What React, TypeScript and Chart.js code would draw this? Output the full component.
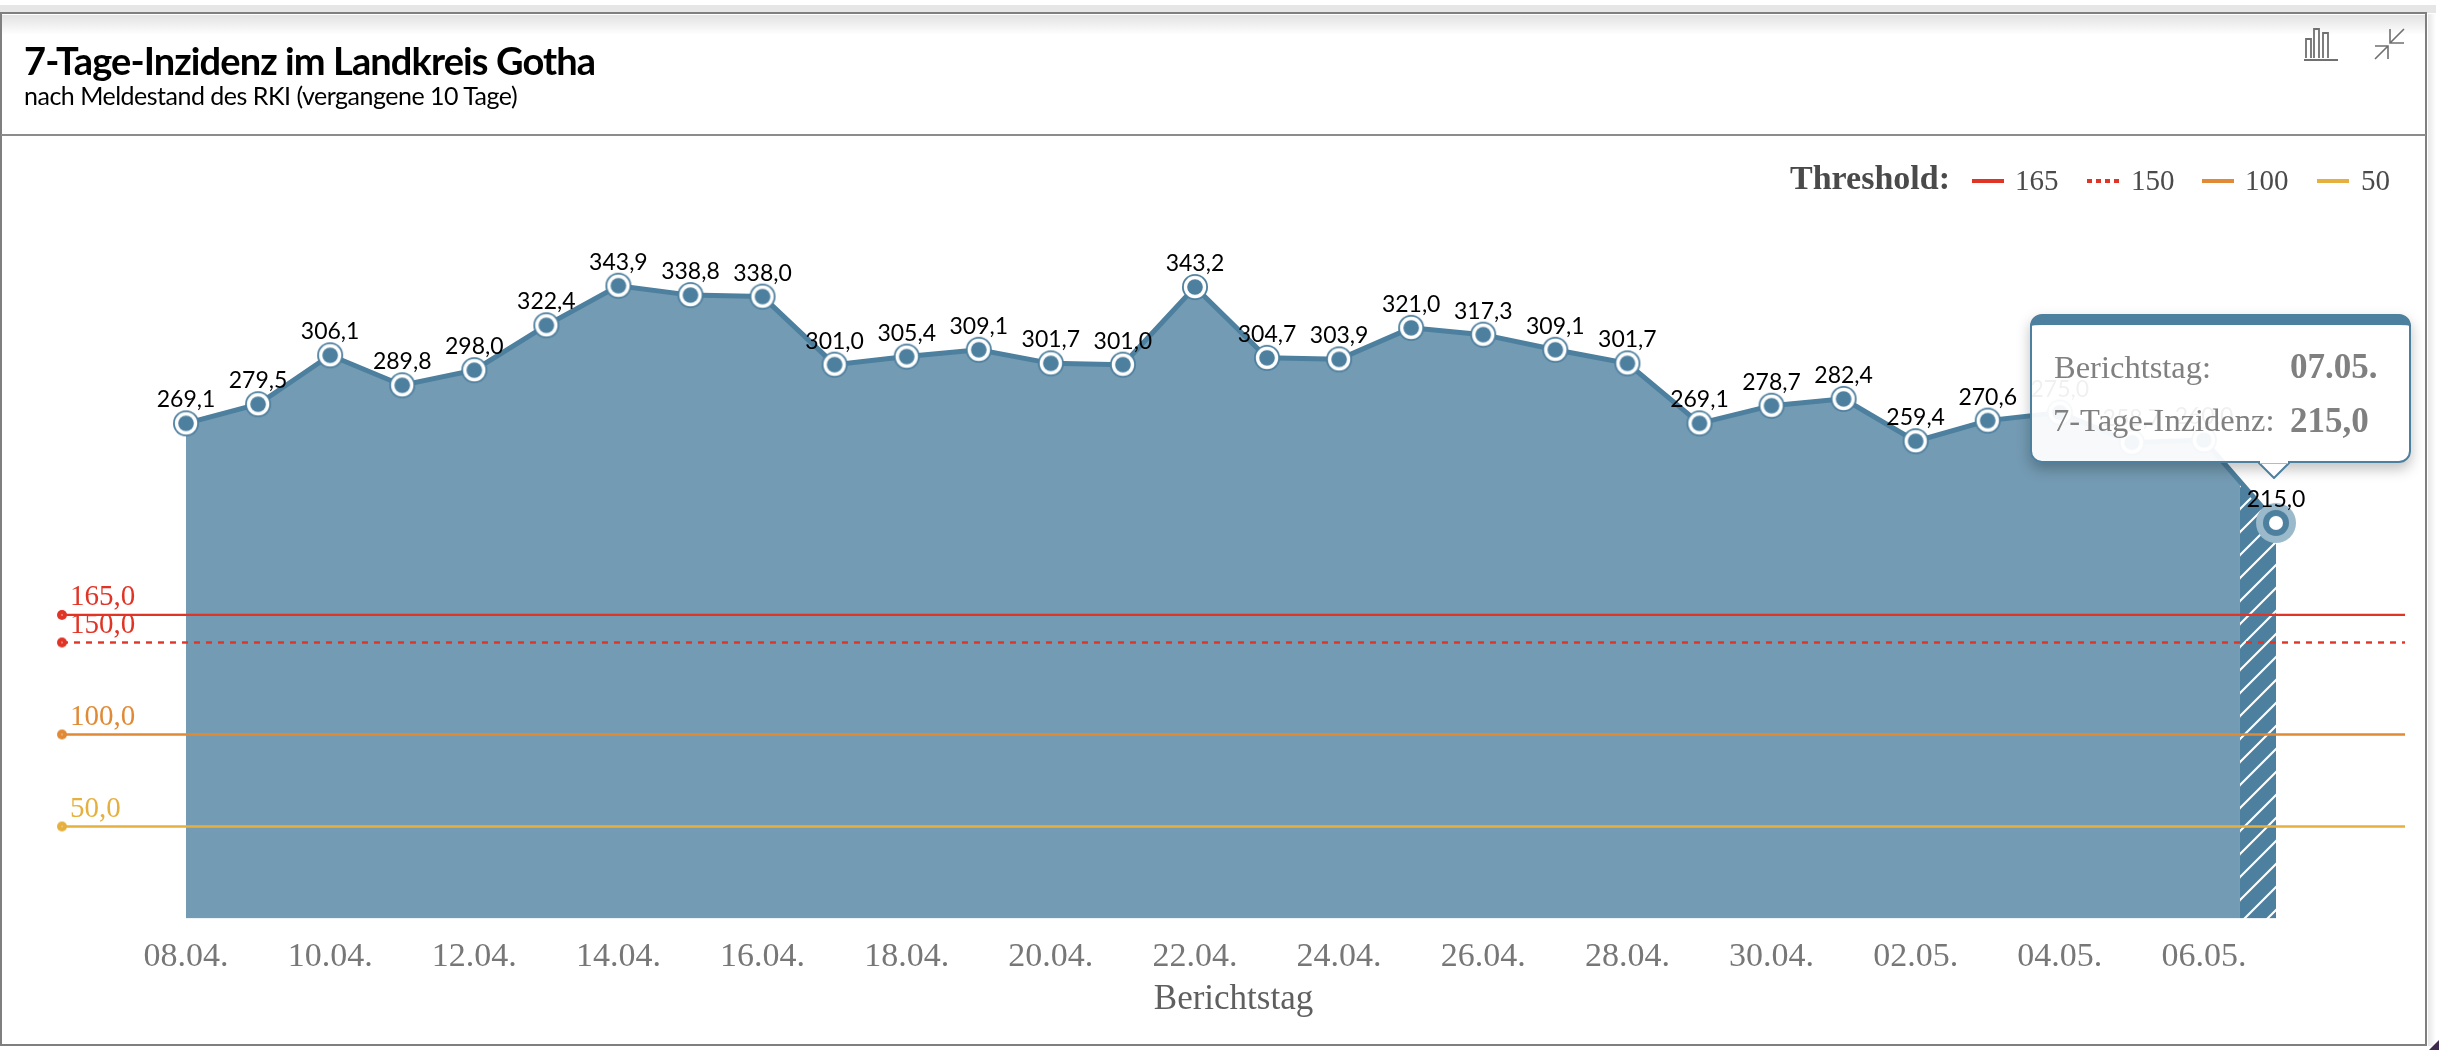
import React, { useEffect, useRef } from "react";
import { Chart, registerables } from "chart.js";

Chart.register(...registerables);

const categories = ["08.04.","09.04.","10.04.","11.04.","12.04.","13.04.","14.04.","15.04.","16.04.","17.04.","18.04.","19.04.","20.04.","21.04.","22.04.","23.04.","24.04.","25.04.","26.04.","27.04.","28.04.","29.04.","30.04.","01.05.","02.05.","03.05.","04.05.","05.05.","06.05.","07.05."];
const incidence = [269.1,279.5,306.1,289.8,298.0,322.4,343.9,338.8,338.0,301.0,305.4,309.1,301.7,301.0,343.2,304.7,303.9,321.0,317.3,309.1,301.7,269.1,278.7,282.4,259.4,270.6,275.0,258.7,260.0,215.0];
const thresholdValues = [165,150,100,50];
const thresholdColors = ["#e03426","#e03426","#e08a35","#e5b03e"];
const thresholdDashes = [[],[6,6],[],[]];

const BLUE = "#4d7f9e";
const AREA = "#739bb3";
const SERIF = '"Liberation Serif", serif';
const LATO = 'Lato, sans-serif';
const X_MIN = -1.7206;
const X_MAX = 30.79;

const fmt = (v: number) => v.toFixed(1).replace(".", ",");

function sprite(size: number, draw: (c: CanvasRenderingContext2D, m: number) => void) {
  const cv = document.createElement("canvas");
  cv.width = size; cv.height = size;
  draw(cv.getContext("2d")!, size / 2);
  return cv;
}
const disc = (c: CanvasRenderingContext2D, m: number, r: number, color: string) => {
  c.beginPath(); c.arc(m, m, r, 0, Math.PI * 2); c.fillStyle = color; c.fill();
};
const ringPoint = () => sprite(28, (c, m) => { disc(c, m, 13, BLUE); disc(c, m, 11.2, "#ffffff"); disc(c, m, 7.8, BLUE); });
const lastPoint = () => sprite(44, (c, m) => { disc(c, m, 20, "#9ab9cb"); disc(c, m, 13, BLUE); disc(c, m, 7, "#ffffff"); });
const thresholdPoint = (color: string) => sprite(12, (c, m) => { disc(c, m, 5, color); disc(c, m, 0.8, "#f5d0c0"); });

function areaFill(chart: any) {
  const sc = chart.scales.x;
  const w = chart.width, h = chart.height;
  const split = sc.getPixelForValue(categories.length - 1.5);
  const cv = document.createElement("canvas");
  cv.width = w; cv.height = h;
  const c = cv.getContext("2d")!;
  c.fillStyle = AREA; c.fillRect(0, 0, split, h);
  c.fillStyle = BLUE; c.fillRect(split, 0, w - split, h);
  c.save();
  c.beginPath(); c.rect(split, 0, w - split, h); c.clip();
  c.strokeStyle = "#ffffff"; c.lineWidth = 2;
  for (let k = 0; k < h + w; k += 23) {
    c.beginPath();
    c.moveTo(split - 20, k);
    c.lineTo(split + 120, k - 140);
    c.stroke();
  }
  c.restore();
  return c.createPattern(cv, "no-repeat");
}

const labelPlugin = {
  id: "valueLabels",
  afterDatasetsDraw(chart: any) {
    const c = chart.ctx;
    const meta = chart.getDatasetMeta(0);
    c.save();
    c.textAlign = "center"; c.textBaseline = "alphabetic";
    c.font = `23px ${LATO}`; c.fillStyle = "#000000";
    meta.data.forEach((p: any, i: number) => c.fillText(fmt(incidence[i]), p.x, p.y - 16));
    c.textAlign = "left";
    c.font = `29px ${SERIF}`;
    thresholdValues.forEach((v, i) => {
      c.fillStyle = thresholdColors[i];
      c.fillText(fmt(v), chart.scales.x.getPixelForValue(X_MIN) + 8, chart.scales.y.getPixelForValue(v) - 10);
    });
    c.restore();
  },
};

export default function App() {
  const ref = useRef<HTMLCanvasElement>(null);
  useEffect(() => {
    const ring = ringPoint();
    const last = lastPoint();
    const chart = new Chart(ref.current!, {
      type: "line",
      data: {
        datasets: [
          {
            label: "7-Tage-Inzidenz",
            data: incidence.map((y, x) => ({ x, y })),
            borderColor: BLUE,
            borderWidth: 5,
            tension: 0,
            fill: "origin",
            backgroundColor: (ctx: any) => areaFill(ctx.chart),
            pointRadius: 13,
            pointStyle: incidence.map((_, i) => (i === incidence.length - 1 ? last : ring)),
            order: 1,
            clip: false,
          } as any,
          ...thresholdValues.map((v, i) => ({
            label: String(v),
            data: [{ x: X_MIN, y: v }, { x: X_MAX, y: v }],
            borderColor: thresholdColors[i],
            borderWidth: 2.4,
            borderDash: thresholdDashes[i],
            fill: false,
            pointRadius: [5, 0],
            pointStyle: thresholdPoint(thresholdColors[i]),
            order: 0,
            clip: false,
          })) as any,
        ],
      },
      options: {
        responsive: false,
        devicePixelRatio: 1,
        animation: false,
        layout: { padding: { left: 62, right: 34, top: 182.5, bottom: 0 } },
        plugins: { legend: { display: false }, tooltip: { enabled: false } },
        scales: {
          x: {
            type: "linear",
            min: X_MIN,
            max: X_MAX,
            grid: { display: false },
            border: { display: false },
            afterFit(scale: any) { scale.height = 131.5; },
            afterBuildTicks(scale: any) {
              scale.ticks = categories
                .map((_, i) => ({ value: i }))
                .filter((t) => t.value % 2 === 0);
            },
            ticks: {
              autoSkip: false,
              maxRotation: 0,
              padding: 10,
              color: "#777777",
              font: { family: "Liberation Serif", size: 34 },
              callback: (v: any) => categories[v],
            },
            title: {
              display: true,
              text: "Berichtstag",
              color: "#5f5f5f",
              font: { family: "Liberation Serif", size: 35 },
              padding: { top: 0, bottom: 29 },
            },
          },
          y: { display: false, min: 0, max: 400 },
        },
      } as any,
      plugins: [labelPlugin],
    });
    return () => chart.destroy();
  }, []);

  const abs = (left: number, top: number, extra: any = {}) => ({ position: "absolute", left, top, whiteSpace: "nowrap", lineHeight: 1, ...extra });
  const legendX = [{ s: 1972, t: 2015 }, { s: 2087, t: 2131 }, { s: 2202, t: 2245 }, { s: 2317, t: 2361 }];
  const lastIdx = incidence.length - 1;
  const ttText = { fontFamily: SERIF, fontSize: 32.5, color: "#808080" };
  const ttValue = { fontFamily: SERIF, fontSize: 35, fontWeight: 700, color: "#808080" };

  return (
    <div style={{ position: "fixed", left: 0, top: 0, width: 2439, height: 1050, background: "#fff", overflow: "hidden" }}>
      <div style={{ position: "absolute", left: 0, top: 5, width: 2436, height: 8, background: "#e6e6e6" }} />
      <div style={{ position: "absolute", left: 2428, top: 14, width: 8, height: 1032, background: "linear-gradient(to right,#e8e8e8,#fff)" }} />
      <div style={{ position: "absolute", left: 0, top: 12, width: 2427, height: 1034, boxSizing: "border-box", border: "2px solid #7f7f7f", borderTopWidth: 2.5, background: "#fff" }} />
      <div style={{ position: "absolute", left: 2, top: 15, width: 2423, height: 20, background: "linear-gradient(to bottom,#e2e2e2,#ffffff)" }} />
      <div style={{ position: "absolute", left: 1, top: 134, width: 2425, height: 2, background: "#8c8c8c" }} />
      <svg style={{ position: "absolute", left: 2429, top: 1040, width: 10, height: 10 }}>
        <polygon points="0,10 10,0 10,10" fill="#3d2a4d" />
      </svg>

      <canvas ref={ref} width={2439} height={1050} style={{ position: "absolute", left: 0, top: 0, width: 2439, height: 1050 }} />

      <div style={abs(24, 41, { fontFamily: LATO, fontWeight: 700, fontSize: 38, letterSpacing: -0.9, color: "#000" })}>7-Tage-Inzidenz im Landkreis Gotha</div>
      <div style={abs(24, 83, { fontFamily: LATO, fontSize: 25, letterSpacing: -0.5, color: "#000" })}>nach Meldestand des RKI (vergangene 10 Tage)</div>

      <svg style={{ position: "absolute", left: 2300, top: 24, width: 110, height: 40 }} viewBox="0 0 110 40" fill="none" stroke="#707070" strokeWidth="1.8">
        <path d="M6 34V15h5v19M14 34V5h5v29M23 34V9h5v25" />
        <path d="M4 36h34" strokeWidth="2.2" />
        <path d="M104 5L90 19M90 5v14h14M75 35L88 22M75 22h13v13" strokeWidth="1.6" />
      </svg>

      <div style={abs(1790, 161, { fontFamily: SERIF, fontWeight: 700, fontSize: 34, color: "#4a4a4a" })}>Threshold:</div>
      {thresholdValues.map((v, i) => (
        <React.Fragment key={v}>
          <svg style={{ position: "absolute", left: legendX[i].s, top: 179, width: 32, height: 4 }}>
            <line x1="0" y1="2" x2="32" y2="2" stroke={thresholdColors[i]} strokeWidth="4" strokeDasharray={thresholdDashes[i].length ? "5 4" : undefined} />
          </svg>
          <div style={abs(legendX[i].t, 166, { fontFamily: SERIF, fontSize: 29, color: "#4a4a4a" })}>{v}</div>
        </React.Fragment>
      ))}

      <div style={{ position: "absolute", left: 2030, top: 314, width: 381, height: 149, boxSizing: "border-box", borderRadius: 12, border: `2px solid ${BLUE}`, borderTop: `11px solid ${BLUE}`, background: "rgba(255,255,255,0.94)", boxShadow: "0 6px 14px rgba(0,0,0,0.25)" }} />
      <svg style={{ position: "absolute", left: 2258, top: 461, width: 32, height: 18 }}>
        <polygon points="1,2 16,17 31,2" fill="#fff" stroke={BLUE} strokeWidth="2" />
        <rect x="2" y="0" width="28" height="2.5" fill="#fff" />
      </svg>
      <div style={abs(2054, 351, ttText)}>Berichtstag:</div>
      <div style={abs(2290, 349, ttValue)}>{categories[lastIdx]}</div>
      <div style={abs(2053, 404, ttText)}>7-Tage-Inzidenz:</div>
      <div style={abs(2290, 403, ttValue)}>{fmt(incidence[lastIdx])}</div>
    </div>
  );
}
